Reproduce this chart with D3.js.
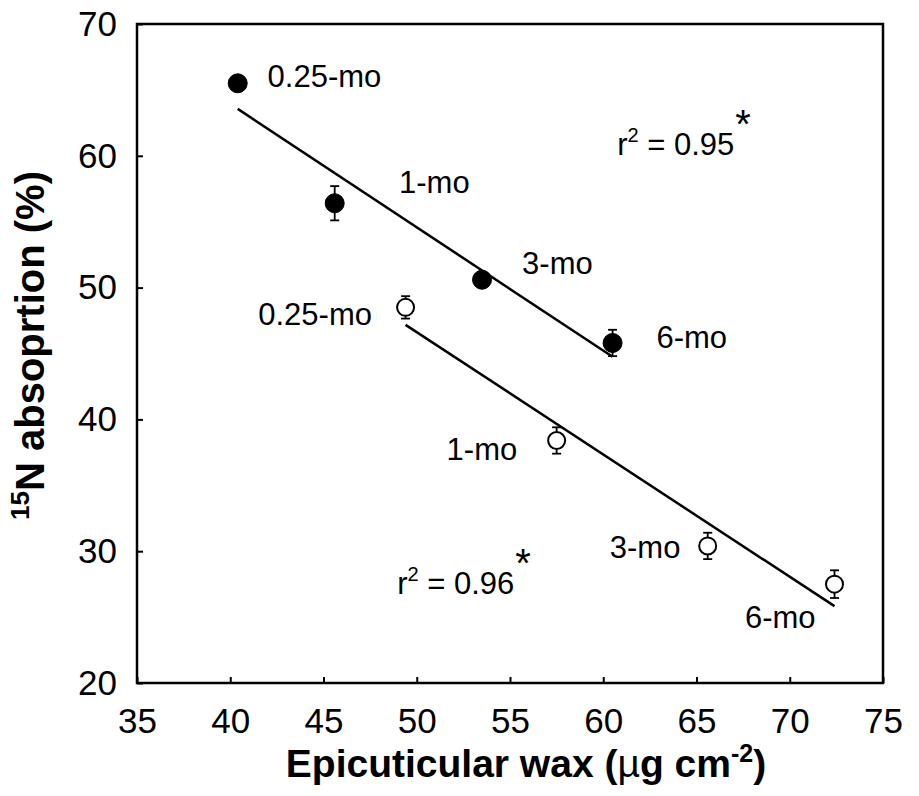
<!DOCTYPE html>
<html>
<head>
<meta charset="utf-8">
<script src="https://cdn.jsdelivr.net/npm/d3@7"></script>
<style>
  body { margin: 0; background: #fff; }
  svg { display: block; font-family: "Liberation Sans", Arial, Helvetica, sans-serif; }
</style>
</head>
<body>
<svg id="chart"></svg>
<script>
// data
const stages = ["0.25-mo", "1-mo", "3-mo", "6-mo"];
const filledWax = [40.4, 45.6, 53.5, 60.5];
const filledN = [65.5, 56.4, 50.6, 45.8];
const filledErr = [0.3, 1.3, 0.4, 1.0];
const openWax = [49.4, 57.5, 65.6, 72.4];
const openN = [48.5, 38.4, 30.4, 27.5];
const openErr = [0.85, 1.0, 1.0, 1.05];
const xTicks = [35, 40, 45, 50, 55, 60, 65, 70, 75];
const yTicks = [20, 30, 40, 50, 60, 70];

// label anchors in data units
const filledLabelX = [42.0, 49.05, 55.65, 62.85];
const filledLabelY = [65.2, 57.15, 51.0, 45.45];
const openLabelX = [41.5, 51.6, 60.35, 67.6];
const openLabelY = [47.2, 36.9, 29.5, 24.2];
const r2Text = ["0.95", "0.96"];
const r2X = [60.75, 48.95];
const r2Y = [60.05, 26.75];

const width = 919, height = 796;
const margin = { top: 24, right: 36, bottom: 113, left: 137 };

const svg = d3.select("#chart").attr("width", width).attr("height", height);

const x = d3.scaleLinear().domain([35, 75]).range([margin.left, width - margin.right]);
const y = d3.scaleLinear().domain([20, 70]).range([height - margin.bottom, margin.top]);

// axes (ticks inward)
const gx = svg.append("g")
  .attr("transform", `translate(0,${height - margin.bottom})`)
  .call(d3.axisBottom(x).tickValues(xTicks).tickSizeInner(-6).tickSizeOuter(0).tickPadding(25));
const gy = svg.append("g")
  .attr("transform", `translate(${margin.left},0)`)
  .call(d3.axisLeft(y).tickValues(yTicks).tickSizeInner(-6).tickSizeOuter(0).tickPadding(20));

[gx, gy].forEach(g => {
  g.select(".domain").remove();
  g.selectAll(".tick line").attr("stroke", "#000").attr("stroke-width", 2);
  g.selectAll(".tick text")
    .attr("fill", "#000")
    .style("font-size", "35px")
    .style("font-family", "Liberation Sans, Arial, sans-serif");
});

// frame
svg.append("rect")
  .attr("x", x(35)).attr("y", y(70))
  .attr("width", x(75) - x(35)).attr("height", y(20) - y(70))
  .attr("fill", "none").attr("stroke", "#000").attr("stroke-width", 2.5);

// least squares fit
function fit(xs, ys) {
  const mx = d3.mean(xs), my = d3.mean(ys);
  const sxy = d3.sum(xs, (d, i) => (d - mx) * (ys[i] - my));
  const sxx = d3.sum(xs, d => (d - mx) * (d - mx));
  const b = sxy / sxx;
  return v => my + b * (v - mx);
}

const groups = [
  { wax: filledWax, n: filledN, err: filledErr, fill: "#000", lx: filledLabelX, ly: filledLabelY },
  { wax: openWax, n: openN, err: openErr, fill: "#fff", lx: openLabelX, ly: openLabelY }
];

groups.forEach((g, gi) => {
  const f = fit(g.wax, g.n);
  const x0 = d3.min(g.wax), x1 = d3.max(g.wax);
  svg.append("line")
    .attr("x1", x(x0)).attr("y1", y(f(x0)))
    .attr("x2", x(x1)).attr("y2", y(f(x1)))
    .attr("stroke", "#000").attr("stroke-width", 2.5);

  const pts = g.wax.map((d, i) => ({ wx: d, n: g.n[i], e: g.err[i] }));

  const eb = svg.append("g").attr("stroke", "#000").attr("stroke-width", 1.8);
  pts.forEach(p => {
    eb.append("line")
      .attr("x1", x(p.wx)).attr("x2", x(p.wx))
      .attr("y1", y(p.n + p.e)).attr("y2", y(p.n - p.e));
    [p.n + p.e, p.n - p.e].forEach(v => {
      eb.append("line")
        .attr("x1", x(p.wx) - 4.5).attr("x2", x(p.wx) + 4.5)
        .attr("y1", y(v)).attr("y2", y(v));
    });
  });

  svg.append("g").selectAll("circle")
    .data(pts)
    .join("circle")
    .attr("cx", d => x(d.wx))
    .attr("cy", d => y(d.n))
    .attr("r", gi === 0 ? 9.5 : 8.5)
    .attr("fill", g.fill)
    .attr("stroke", "#000")
    .attr("stroke-width", gi === 0 ? 1 : 2);

  svg.append("g").selectAll("text")
    .data(stages)
    .join("text")
    .attr("x", (d, i) => x(g.lx[i]))
    .attr("y", (d, i) => y(g.ly[i]))
    .style("font-size", "31px")
    .text(d => d);

  const r2 = svg.append("text")
    .attr("x", x(r2X[gi])).attr("y", y(r2Y[gi]))
    .style("font-size", "31px");
  r2.append("tspan").text("r");
  r2.append("tspan").attr("dy", -13).style("font-size", "20px").text("2");
  r2.append("tspan").attr("dy", 13).text(" = " + r2Text[gi]);
  r2.append("tspan").attr("dy", -17).attr("dx", 1).style("font-size", "40px").text("*");
});

// axis titles
const xt = svg.append("text")
  .attr("x", 526).attr("y", 777)
  .attr("text-anchor", "middle")
  .style("font-size", "39px").style("font-weight", "bold");
xt.append("tspan").text("Epicuticular wax (");
xt.append("tspan").style("font-weight", "normal").text("\u00b5");
xt.append("tspan").text("g cm");
xt.append("tspan").attr("dy", -15).style("font-size", "25px").text("-2");
xt.append("tspan").attr("dy", 15).text(")");

const yt = svg.append("text")
  .attr("transform", `translate(44,${(margin.top + height - margin.bottom) / 2 - 8}) rotate(-90)`)
  .attr("text-anchor", "middle")
  .style("font-size", "40px").style("font-weight", "bold");
yt.append("tspan").attr("dy", -15).style("font-size", "26px").text("15");
yt.append("tspan").attr("dy", 15).text("N absoprtion (%)");
</script>
</body>
</html>
